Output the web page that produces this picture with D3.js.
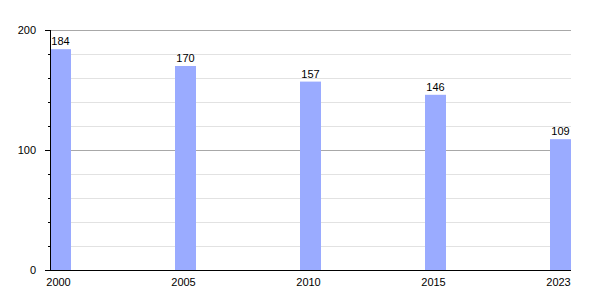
<!DOCTYPE html>
<html>
<head>
<meta charset="utf-8">
<script src="https://cdn.jsdelivr.net/npm/d3@7"></script>
<style>
  body { margin: 0; background: #fff; }
  svg { font-family: "Liberation Sans", Arial, sans-serif; }
</style>
</head>
<body>
<svg id="chart" width="600" height="300"></svg>
<script>
// chart data
const years = ["2000", "2005", "2010", "2015", "2023"];
const values = [184, 170, 157, 146, 109];
const majorTicks = [0, 100, 200];
const minorTicks = d3.range(20, 200, 20);

const margin = { top: 30, right: 29, bottom: 30, left: 50 };
const width = 600 - margin.left - margin.right;
const height = 300 - margin.top - margin.bottom;

const svg = d3.select("#chart")
    .append("g")
    .attr("transform", `translate(${margin.left},${margin.top})`);

const x = d3.scaleBand()
    .domain(years)
    .range([0, width])
    .paddingInner(0.832)
    .paddingOuter(0);

const y = d3.scaleLinear()
    .domain([0, 200])
    .range([height, 0]);

// gridlines, light ones every 20, darker at 100 and 200
svg.append("g")
    .selectAll("line")
    .data(minorTicks.filter(d => d !== 100))
    .enter().append("line")
    .attr("x1", 0).attr("x2", width)
    .attr("y1", d => y(d) + 0.5).attr("y2", d => y(d) + 0.5)
    .style("stroke", "#e2e2e2");

svg.append("g")
    .selectAll("line")
    .data([100, 200])
    .enter().append("line")
    .attr("x1", 0).attr("x2", width)
    .attr("y1", d => y(d) + 0.5).attr("y2", d => y(d) + 0.5)
    .style("stroke", "#a8a8a8");

// bars
svg.selectAll("rect")
    .data(values)
    .enter().append("rect")
    .attr("x", (d, i) => x(years[i]))
    .attr("y", d => y(d))
    .attr("width", x.bandwidth())
    .attr("height", d => height - y(d))
    .style("fill", "#9aabff");

// value labels
svg.selectAll(".val")
    .data(values)
    .enter().append("text")
    .attr("class", "val")
    .attr("x", (d, i) => x(years[i]) + x.bandwidth() / 2)
    .attr("y", d => y(d) - 4)
    .attr("text-anchor", "middle")
    .style("font-size", "11px")
    .text(d => d);

// y axis: minor ticks then major ticks with labels
const yAxis = svg.append("g");
yAxis.call(d3.axisLeft(y).tickValues(minorTicks).tickSize(2).tickFormat(""))
    .select(".domain").remove();
yAxis.append("g")
    .call(d3.axisLeft(y).tickValues(majorTicks).tickSize(5).tickPadding(9))
    .selectAll("text")
    .style("font-size", "11px")
    .style("fill", "#000");
yAxis.selectAll("line").style("stroke", "#000");
yAxis.selectAll(".domain").attr("d", `M0.5,0V${height}`).style("stroke", "#000");

// x axis
const xAxis = svg.append("g")
    .attr("transform", `translate(0,${height})`)
    .call(d3.axisBottom(x).tickSize(0).tickPadding(8));
xAxis.select(".domain").attr("d", `M-5,0.5H${width}`).style("stroke", "#000");
xAxis.selectAll("text")
    .attr("dx", -2)
    .style("font-size", "11px")
    .style("fill", "#000");
</script>
</body>
</html>
